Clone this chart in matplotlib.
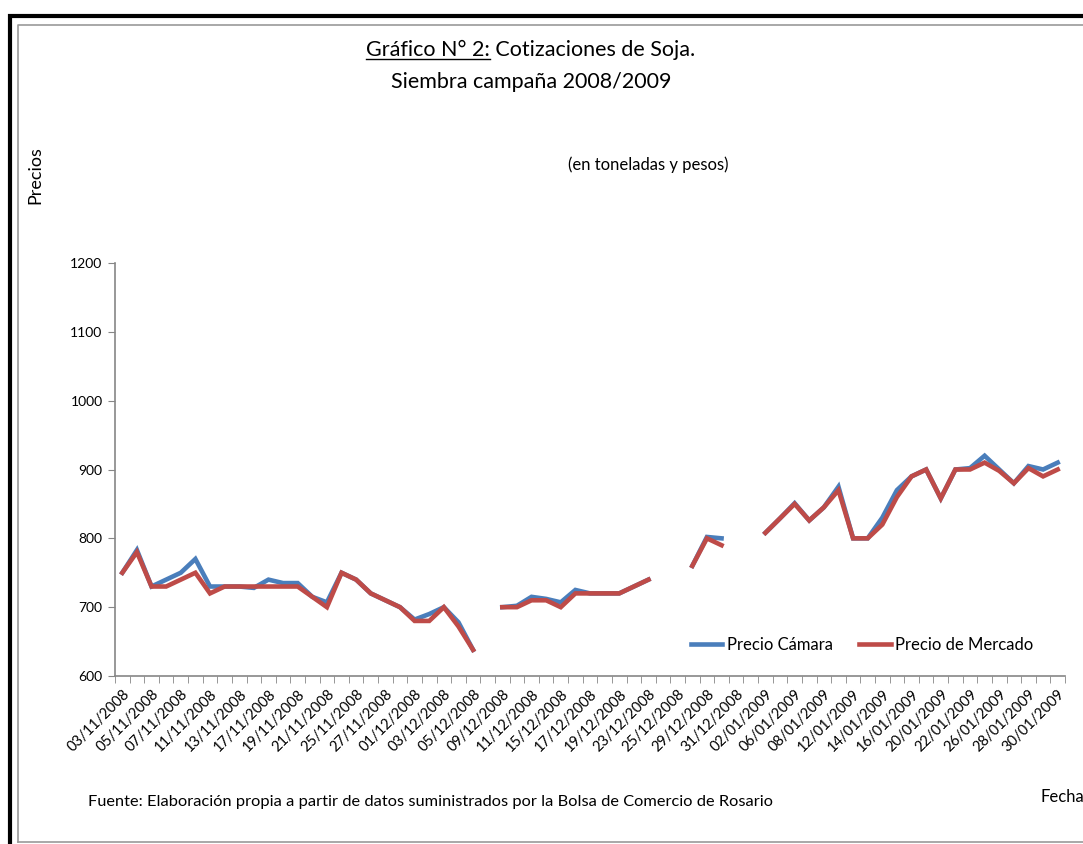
import numpy as np
import matplotlib
matplotlib.use('Agg')
import matplotlib.pyplot as plt
from matplotlib.lines import Line2D

plt.rcParams['font.family'] = ['Lato', 'DejaVu Sans']

nan = np.nan

# fechas (dias habiles)
fechas = ['03/11/2008', '04/11/2008', '05/11/2008', '06/11/2008', '07/11/2008',
          '10/11/2008', '11/11/2008', '12/11/2008', '13/11/2008', '14/11/2008',
          '17/11/2008', '18/11/2008', '19/11/2008', '20/11/2008', '21/11/2008',
          '24/11/2008', '25/11/2008', '26/11/2008', '27/11/2008', '28/11/2008',
          '01/12/2008', '02/12/2008', '03/12/2008', '04/12/2008', '05/12/2008',
          '08/12/2008', '09/12/2008', '10/12/2008', '11/12/2008', '12/12/2008',
          '15/12/2008', '16/12/2008', '17/12/2008', '18/12/2008', '19/12/2008',
          '22/12/2008', '23/12/2008', '24/12/2008', '25/12/2008', '26/12/2008',
          '29/12/2008', '30/12/2008', '31/12/2008', '01/01/2009', '02/01/2009',
          '05/01/2009', '06/01/2009', '07/01/2009', '08/01/2009', '09/01/2009',
          '12/01/2009', '13/01/2009', '14/01/2009', '15/01/2009', '16/01/2009',
          '19/01/2009', '20/01/2009', '21/01/2009', '22/01/2009', '23/01/2009',
          '26/01/2009', '27/01/2009', '28/01/2009', '29/01/2009', '30/01/2009']

precio_camara = [750, 783, 730, 740, 750, 770, 730, 730, 730, 728,
                 740, 735, 735, 715, 707, 750, 740, 720, 710, 700,
                 682, 690, 700, 678, 638, nan, 700, 702, 715, 712,
                 707, 725, 720, 720, 720, 730, 740, nan, nan, 760,
                 802, 800, nan, nan, 808, 829, 851, 826, 845, 875,
                 800, 800, 830, 870, 890, 900, 858, 900, 902, 920,
                 900, 880, 905, 900, 910]

precio_mercado = [750, 780, 730, 730, 740, 750, 720, 730, 730, 730,
                  730, 730, 730, 715, 700, 750, 740, 720, 710, 700,
                  680, 680, 700, 672, 638, nan, 700, 700, 710, 710,
                  700, 720, 720, 720, 720, 730, 740, nan, nan, 760,
                  800, 790, nan, nan, 808, 829, 850, 826, 845, 870,
                  800, 800, 820, 860, 890, 900, 858, 900, 900, 910,
                  898, 880, 902, 890, 900]

azul = '#4A7EBB'
rojo = '#BE4B48'
gris = '#868686'

fig = plt.figure(figsize=(10.83, 8.44), dpi=100)
ax = fig.add_axes([115/1083, 1-676/844, (1065-115)/1083, (676-263)/844])

x = np.arange(len(fechas))
ax.plot(x, precio_camara, color=azul, lw=3.3, label='Precio Cámara', solid_joinstyle='miter')
ax.plot(x, precio_mercado, color=rojo, lw=3.3, label='Precio de Mercado', solid_joinstyle='miter')

ax.set_xlim(-0.5, len(fechas)-0.5)
ax.set_ylim(600, 1200)
ax.set_yticks(range(600, 1201, 100))
ax.tick_params(axis='y', labelsize=10, length=5, color=gris, pad=4)

ax.set_xticks(x[::2])
ax.set_xticklabels(fechas[::2], rotation=45, ha='right', va='top',
                   rotation_mode='anchor', fontsize=10.5)
ax.tick_params(axis='x', length=0, pad=8)
ax.set_xticks(np.arange(-0.5, len(fechas), 1), minor=True)
ax.tick_params(axis='x', which='minor', length=5, color=gris)

for s in ['top', 'right']:
    ax.spines[s].set_visible(False)
for s in ['left', 'bottom']:
    ax.spines[s].set_color(gris)
    ax.spines[s].set_linewidth(1.2)

ax.legend(loc='center', bbox_to_anchor=(862/1083, 1-645/844),
          bbox_transform=fig.transFigure, ncol=2, frameon=False,
          fontsize=12, handlelength=1.9, handletextpad=0.25, columnspacing=1.6)

# titulo
t1 = fig.text(531/1083, 1-50/844, 'Gráfico N° 2: Cotizaciones de Soja.',
              ha='center', va='center', fontsize=15.5)
fig.text(531/1083, 1-82/844, 'Siembra campaña 2008/2009',
         ha='center', va='center', fontsize=15.5)
fig.canvas.draw()
r = fig.canvas.get_renderer()
bb = t1.get_window_extent(r)
tmp = fig.text(bb.x0/1083, 1-50/844, 'Gráfico N° 2:', ha='left', va='center', fontsize=15.5)
bb2 = tmp.get_window_extent(r)
tmp.remove()
yl = (bb.y0 + 1) / 844
fig.add_artist(Line2D([bb2.x0/1083, bb2.x1/1083], [yl, yl], color='black', lw=1,
                      transform=fig.transFigure))

fig.text(35/1083, 1-175/844, 'Precios', rotation=90, ha='center', va='center', fontsize=13)
fig.text(648/1083, 1-165/844, '(en toneladas y pesos)', ha='center', va='center', fontsize=12)
fig.text(1041/1083, 1-797/844, 'Fecha', ha='left', va='center', fontsize=12)
fig.text(88/1083, 1-802/844,
         'Fuente: Elaboración propia a partir de datos suministrados por la Bolsa de Comercio de Rosario',
         ha='left', va='center', fontsize=11.8)

# marco
fig.add_artist(Line2D([10/1083, 10/1083, 1.0], [0, 1-16/844, 1-16/844], color='black',
                      lw=3, transform=fig.transFigure, solid_joinstyle='miter'))
fig.add_artist(Line2D([17.5/1083, 17.5/1083, 1.0], [1-842/844, 1-25/844, 1-25/844], color='#999999',
                      lw=1.2, transform=fig.transFigure))
fig.add_artist(Line2D([17.5/1083, 1.0], [1-842/844, 1-842/844], color='#999999',
                      lw=1.2, transform=fig.transFigure))

fig.savefig('out.png', dpi=100)
